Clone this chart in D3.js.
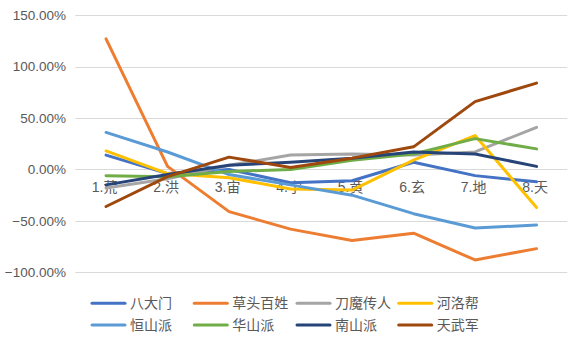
<!DOCTYPE html>
<html>
<head>
<meta charset="utf-8">
<script src="https://cdn.jsdelivr.net/npm/d3@7"></script>
<style>
  html, body { margin: 0; padding: 0; background: #fff; }
  svg { display: block; }
  text { font-family: "Liberation Sans", "Noto Sans CJK SC", sans-serif; fill: #595959; }
</style>
</head>
<body>
<svg id="chart" width="580" height="346"></svg>
<script>
// Categories along the x axis
const categories = ["1.荒", "2.洪", "3.宙", "4.宇", "5.黄", "6.玄", "7.地", "8.天"];

// Series names and colours (legend order)
const seriesNames = ["八大门", "草头百姓", "刀魔传人", "河洛帮", "恒山派", "华山派", "南山派", "天武军"];
const seriesColors = ["#4472C4", "#ED7D31", "#A5A5A5", "#FFC000", "#5B9BD5", "#70AD47", "#264478", "#9E480E"];

// Values in percent, one array per series
const baDaMen      = [14, -4, 0, -13, -11, 7, -6, -12];
const caoTouBaiXing = [127, 3, -41, -58, -69, -62, -88, -77];
const daoMoChuanRen = [-18, -9, 4, 14, 15, 14, 17, 41];
const heLuoBang    = [18, -4, -8, -19, -20, 9, 33, -37];
const hengShanPai  = [36, 17, -5, -15, -25, -43, -57, -54];
const huaShanPai   = [-6, -7, -2, 0, 9, 15, 30, 20];
const nanShanPai   = [-15, -5, 4, 7, 11, 17, 15, 3];
const tianWuJun    = [-36, -7, 12, 2, 11, 22, 66, 84];

const seriesValues = [baDaMen, caoTouBaiXing, daoMoChuanRen, heLuoBang,
                      hengShanPai, huaShanPai, nanShanPai, tianWuJun];

// Y axis ticks
const yTicks = [150, 100, 50, 0, -50, -100];

const svg = d3.select("#chart");

const x = d3.scalePoint()
  .domain(categories)
  .range([75.3, 567.3])
  .padding(0.5);

const y = d3.scaleLinear()
  .domain([-100, 150])
  .range([272.3, 15.2]);

// Horizontal gridlines
svg.append("g")
  .selectAll("line")
  .data(yTicks)
  .join("line")
  .attr("x1", 75.3)
  .attr("x2", 567.3)
  .attr("y1", d => Math.round(y(d)) + 0.5)
  .attr("y2", d => Math.round(y(d)) + 0.5)
  .attr("stroke", "#d9d9d9")
  .attr("stroke-width", 1);

// Y axis labels
svg.append("g")
  .selectAll("text")
  .data(yTicks)
  .join("text")
  .attr("x", 66)
  .attr("y", d => y(d))
  .attr("dy", "0.35em")
  .attr("text-anchor", "end")
  .attr("font-size", 13.5)
  .text(d => d3.format(".2f")(d) + "%");

// Category labels sit just below the zero line
svg.append("g")
  .selectAll("text")
  .data(categories)
  .join("text")
  .attr("x", d => x(d) - 1.5)
  .attr("y", y(0) + 23)
  .attr("text-anchor", "middle")
  .attr("font-size", 14)
  .text(d => d);

// Series lines
const line = d3.line()
  .x((d, i) => x(categories[i]))
  .y(d => y(d));

svg.append("g")
  .selectAll("path")
  .data(seriesValues)
  .join("path")
  .attr("d", d => line(d))
  .attr("fill", "none")
  .attr("stroke", (d, i) => seriesColors[i])
  .attr("stroke-width", 3)
  .attr("stroke-linejoin", "round")
  .attr("stroke-linecap", "round");

// Legend: two rows of four
const legend = svg.append("g");
const colX = [91, 193.3, 296, 397.7];
const rowY = [303.3, 325];
seriesNames.forEach((name, i) => {
  const cx = colX[i % 4];
  const cy = rowY[Math.floor(i / 4)];
  legend.append("line")
    .attr("x1", cx + 1).attr("x2", cx + 34)
    .attr("y1", cy).attr("y2", cy)
    .attr("stroke", seriesColors[i])
    .attr("stroke-width", 3)
    .attr("stroke-linecap", "round");
  legend.append("text")
    .attr("x", cx + 39)
    .attr("y", cy)
    .attr("dy", "0.36em")
    .attr("font-size", 14)
    .text(name);
});
</script>
</body>
</html>
